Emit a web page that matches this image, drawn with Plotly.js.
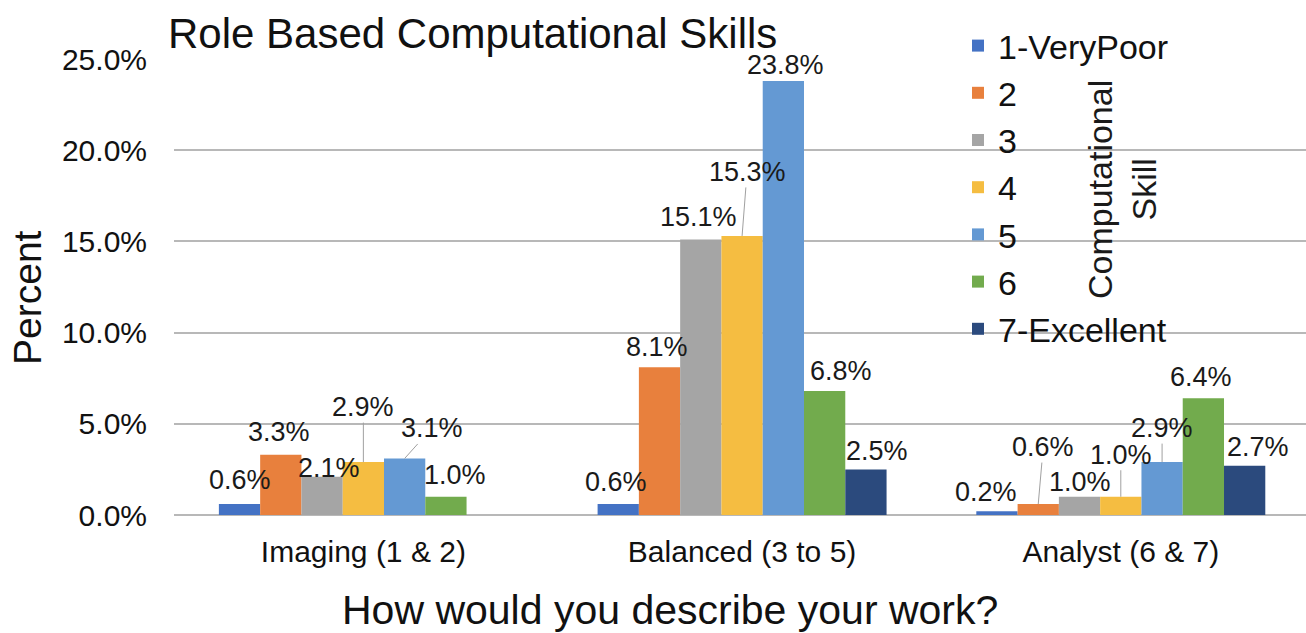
<!DOCTYPE html>
<html>
<head>
<meta charset="utf-8">
<script src="https://cdn.plot.ly/plotly-3.0.1.min.js"></script>
<style>
html,body{margin:0;padding:0;background:#fff;}
#chart{width:1306px;height:633px;}
</style>
</head>
<body>
<div id="chart"></div>
<script>
// ---- data ----
const categories = ['Imaging (1 & 2)', 'Balanced (3 to 5)', 'Analyst (6 & 7)'];
const seriesNames = ['1-VeryPoor', '2', '3', '4', '5', '6', '7-Excellent'];
const skill1VeryPoor = [0.6, 0.6, 0.2];
const skill2 = [3.3, 8.1, 0.6];
const skill3 = [2.1, 15.1, 1.0];
const skill4 = [2.9, 15.3, 1.0];
const skill5 = [3.1, 23.8, 2.9];
const skill6 = [1.0, 6.8, 6.4];
const skill7Excellent = [null, 2.5, 2.7];
const yTickValues = [0, 5, 10, 15, 20, 25];
const yTickLabels = ['0.0%', '5.0%', '10.0%', '15.0%', '20.0%', '25.0%'];
const chartTitle = 'Role Based Computational Skills';
const xTitle = 'How would you describe your work?';
const yTitle = 'Percent';
const legendTitle = 'Computational<br>Skill';

// ---- styles ----
const colors = ['#4472C4', '#E8803D', '#A5A5A5', '#F5BD41', '#6499D3', '#72AB4D', '#2B4A7D'];
const FONT = 'Liberation Sans, Arial, Helvetica, sans-serif';
const bargap = 0.237;
const PLOT_L = 174, PLOT_W = 1132, PLOT_T = 59, PLOT_H = 456;
// label offsets in pixels relative to bar top centre: [dx, dy, leaderLine]
const labelOffsets = [
  [[0, -24, 0], [-2, -22, 0], [-11, -19, 0]],
  [[-2, -23, 0], [-3, -20, 0], [5, -57, 1]],
  [[7, -9, 0], [-2, -23, 0], [0, -15, 0]],
  [[0, -55, 1], [5, -64, 1], [0, -42, 1]],
  [[27, -30, 1], [2, -16, 0], [0, -34, 1]],
  [[9, -22, 0], [16, -20, 0], [-2, -21, 0]],
  [[0, 0, 0], [11, -18, 0], [13, -19, 0]]
];

const seriesValues = [skill1VeryPoor, skill2, skill3, skill4, skill5, skill6, skill7Excellent];

const traces = seriesValues.map((vals, i) => ({
  type: 'bar',
  name: seriesNames[i],
  x: categories,
  y: vals,
  marker: {color: colors[i], line: {width: 0}},
  hoverinfo: 'x+y+name'
}));

const nSeries = seriesValues.length;
const barW = (1 - bargap) / nSeries;
const annotations = [];
seriesValues.forEach((vals, s) => {
  vals.forEach((v, c) => {
    if (v === null || v === undefined) return;
    const off = labelOffsets[s][c];
    const xPos = c + (s - (nSeries - 1) / 2) * barW;
    const txt = v.toFixed(1) + '%';
    if (off[2]) {
      annotations.push({
        x: xPos, y: v, xref: 'x', yref: 'y', text: txt,
        showarrow: true, arrowhead: 0, arrowwidth: 1, arrowcolor: '#A0A0A0',
        ax: off[0], ay: off[1], standoff: 0, borderpad: 0,
        font: {family: FONT, size: 27, color: '#1a1a1a'}
      });
    } else {
      annotations.push({
        x: xPos, y: v, xref: 'x', yref: 'y', text: txt,
        showarrow: false, xshift: off[0], yshift: -off[1],
        xanchor: 'center', yanchor: 'middle',
        font: {family: FONT, size: 27, color: '#1a1a1a'}
      });
    }
  });
});
// legend title (rotated)
annotations.push({
  text: legendTitle, xref: 'paper', yref: 'paper',
  x: (1122 - PLOT_L) / PLOT_W, y: 1 - (190 - PLOT_T) / PLOT_H,
  showarrow: false, textangle: -90, xanchor: 'center', yanchor: 'middle',
  font: {family: FONT, size: 34, color: '#1a1a1a'}
});
// axis titles
annotations.push({
  text: xTitle, xref: 'paper', yref: 'paper',
  x: (670 - PLOT_L) / PLOT_W, y: -(610 - PLOT_T - PLOT_H) / PLOT_H,
  showarrow: false, xanchor: 'center', yanchor: 'middle',
  font: {family: FONT, size: 41, color: '#111'}
});
annotations.push({
  text: yTitle, xref: 'paper', yref: 'paper',
  x: (27 - PLOT_L) / PLOT_W, y: 1 - (298 - PLOT_T) / PLOT_H,
  showarrow: false, textangle: -90, xanchor: 'center', yanchor: 'middle',
  font: {family: FONT, size: 39, color: '#111'}
});

const layout = {
  width: 1306, height: 633,
  margin: {l: PLOT_L, r: 1306 - PLOT_L - PLOT_W, t: PLOT_T, b: 633 - PLOT_T - PLOT_H, pad: 0},
  paper_bgcolor: '#ffffff', plot_bgcolor: '#ffffff',
  barmode: 'group', bargap: bargap, bargroupgap: 0,
  title: {
    text: chartTitle, xref: 'container', yref: 'container',
    x: 168 / 1306, xanchor: 'left', y: 1 - 33 / 633, yanchor: 'middle',
    font: {family: FONT, size: 42, color: '#111'}
  },
  xaxis: {
    type: 'category', range: [-0.5, 2.489],
    showgrid: false, zeroline: false, showline: false, ticks: '',
    tickfont: {family: FONT, size: 30, color: '#111'},
    ticklabelstandoff: 16,
    automargin: false, fixedrange: true
  },
  yaxis: {
    range: [0, 25], tickmode: 'array', tickvals: yTickValues, ticktext: yTickLabels,
    showgrid: true, gridcolor: '#B8B8B8', gridwidth: 2,
    zeroline: true, zerolinecolor: '#B8B8B8', zerolinewidth: 2,
    showline: false, ticks: '',
    tickfont: {family: FONT, size: 30, color: '#111'},
    ticklabelstandoff: 26,
    automargin: false, fixedrange: true
  },
  legend: {
    x: (958 - PLOT_L) / PLOT_W, xanchor: 'left', xref: 'paper',
    y: 1 - (17 - PLOT_T) / PLOT_H, yanchor: 'top', yref: 'paper',
    bgcolor: 'rgba(0,0,0,0)', borderwidth: 0,
    font: {family: FONT, size: 34, color: '#111'},
    itemwidth: 30, traceorder: 'normal', tracegroupgap: 0,
    maxheight: 600
  },
  annotations: annotations,
  showlegend: true
};

Plotly.newPlot('chart', traces, layout, {displayModeBar: false, staticPlot: true});
</script>
</body>
</html>
